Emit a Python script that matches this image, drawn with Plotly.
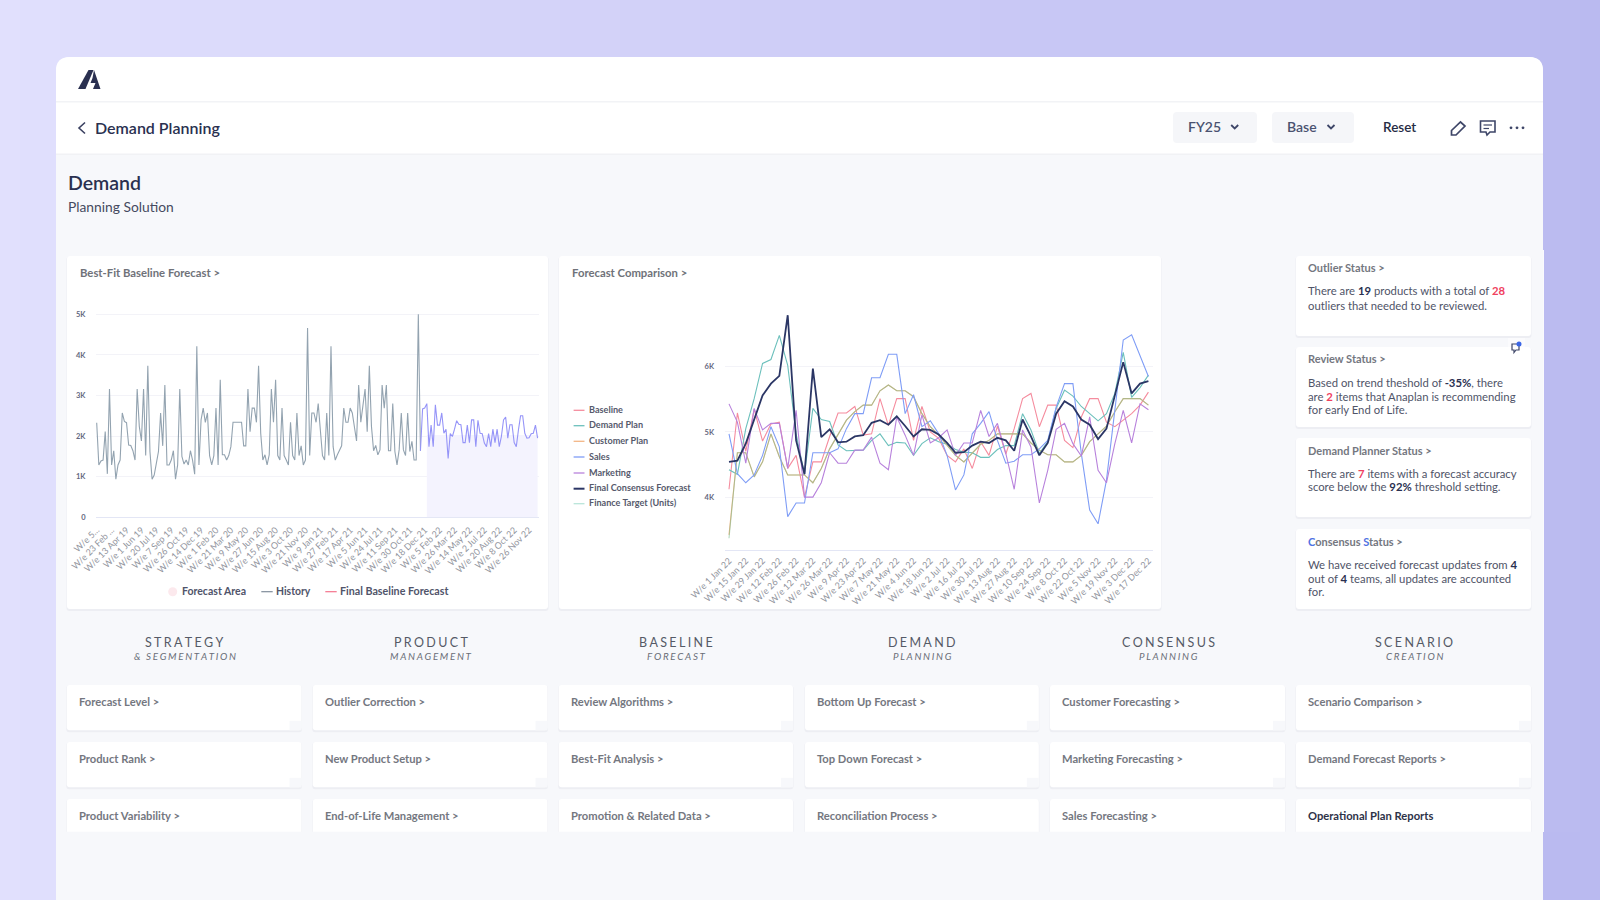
import plotly.graph_objects as go

# ---------- data ----------
history_k = [2.33,1.29,1.39,1.41,2.11,1.07,3.16,1.29,1.64,0.94,1.29,1.41,2.57,2.36,2.33,1.78,1.77,1.64,1.41,3.16,
 2.24,1.88,3.16,1.52,3.73,1.62,0.94,1.04,1.33,1.62,2.57,1.76,3.26,1.29,1.29,1.41,1.64,0.94,1.29,3.16,
 1.50,1.31,1.41,1.29,1.64,1.41,1.06,4.21,1.29,2.40,2.69,2.34,2.57,1.52,1.29,1.52,2.69,1.29,3.39,1.54,
 1.54,1.41,1.52,1.74,2.34,2.34,2.34,2.34,2.34,1.76,1.76,3.16,2.11,2.69,2.69,2.34,3.73,2.07,1.41,1.54,
 1.29,1.54,3.16,2.34,3.39,1.52,1.41,2.69,1.52,1.41,1.29,2.34,1.52,1.41,2.57,1.52,1.76,1.29,1.41,4.66,
 1.52,2.57,2.57,2.34,2.80,2.15,1.52,1.41,2.57,1.52,4.21,1.74,1.41,1.54,1.66,1.76,2.69,2.34,2.34,2.69,
 2.57,2.20,1.88,3.26,2.34,2.75,3.16,2.11,3.73,2.24,1.64,1.77,1.54,1.66,3.26,2.69,3.26,1.64,1.64,2.80,
 1.62,1.29,1.66,2.57,1.66,1.52,2.57,1.62,1.87,1.41,1.41,5.00,1.64]
baseline_forecast_k = [1.64,2.67,2.69,2.80,1.74,2.27,1.74,2.77,2.27,2.27,2.57,2.07,2.17,1.45,2.06,1.99,2.17,2.38,2.29,2.28,
 1.84,1.84,2.27,1.84,2.40,2.40,1.74,2.39,2.07,2.06,1.83,1.74,2.06,1.74,2.17,1.84,2.17,1.74,1.99,2.40,
 2.47,1.95,2.28,2.28,1.84,1.74,2.15,2.50,2.50,2.07,1.95,1.96,2.06,2.07,2.27,1.95]
forecast_start_week = 152
forecast_area_start_week = 155
forecast_area_k = [2.03] * 53
left_ticktext = ["W/e 5...","W/e 23 Feb ...","W/e 13 Apr 19","W/e 1 Jun 19","W/e 20 Jul 19","W/e 7 Sep 19","W/e 26 Oct 19",
 "W/e 14 Dec 19","W/e 1 Feb 20","W/e 21 Mar 20","W/e 9 May 20","W/e 27 Jun 20","W/e 15 Aug 20","W/e 3 Oct 20","W/e 21 Nov 20",
 "W/e 9 Jan 21","W/e 27 Feb 21","W/e 17 Apr 21","W/e 5 Jun 21","W/e 24 Jul 21","W/e 11 Sep 21","W/e 30 Oct 21","W/e 18 Dec 21",
 "W/e 5 Feb 22","W/e 26 Mar 22","W/e 14 May 22","W/e 2 Jul 22","W/e 20 Aug 22","W/e 8 Oct 22","W/e 26 Nov 22"]
right_ticktext = ["W/e 1 Jan 22","W/e 15 Jan 22","W/e 29 Jan 22","W/e 12 Feb 22","W/e 26 Feb 22","W/e 12 Mar 22","W/e 26 Mar 22",
 "W/e 9 Apr 22","W/e 23 Apr 22","W/e 7 May 22","W/e 21 May 22","W/e 4 Jun 22","W/e 18 Jun 22","W/e 2 Jul 22","W/e 16 Jul 22",
 "W/e 30 Jul 22","W/e 13 Aug 22","W/e 27 Aug 22","W/e 10 Sep 22","W/e 24 Sep 22","W/e 8 Oct 22","W/e 22 Oct 22","W/e 5 Nov 22",
 "W/e 19 Nov 22","W/e 3 Dec 22","W/e 17 Dec 22"]
baseline = [4.12,5.29,4.70,5.35,4.86,5.12,5.15,4.44,4.64,4.00,4.54,4.54,4.93,5.29,5.29,5.39,4.95,4.97,5.51,5.10,5.51,5.51,4.87,5.39,5.00,
 4.90,4.64,4.54,4.74,4.44,4.85,4.64,5.09,4.66,5.05,5.51,5.59,5.08,5.41,5.41,4.87,4.76,5.23,5.51,5.51,5.15,5.08,5.18,5.28,5.41,5.61]
demand_plan = [4.42,4.35,5.05,5.51,6.05,6.11,6.48,6.02,4.97,4.35,5.36,5.19,5.16,4.80,4.71,4.72,4.72,4.87,4.97,4.79,4.84,4.83,4.64,4.82,4.91,
 4.85,4.81,4.73,4.69,4.68,4.61,4.61,4.73,4.79,4.79,5.28,5.03,4.67,4.85,5.36,5.64,5.55,5.39,5.28,5.17,5.28,5.59,6.22,5.53,5.68,5.87]
customer_plan = [3.42,4.68,4.68,4.31,4.54,4.97,4.62,4.34,4.34,4.34,4.22,4.44,4.74,4.95,5.18,5.31,5.41,5.41,5.63,5.72,5.63,5.63,5.54,5.28,5.08,
 4.95,4.80,4.64,4.54,4.67,4.81,4.87,4.97,4.97,4.97,4.97,4.83,4.72,4.65,4.65,4.54,4.54,4.64,4.85,4.97,5.09,5.31,5.51,5.51,5.51,5.41]
sales = [4.97,4.36,4.22,4.34,4.64,5.08,4.77,3.70,3.91,3.91,4.68,4.68,4.68,4.74,5.05,5.28,5.28,5.83,5.83,6.19,6.19,5.28,5.57,5.08,5.17,
 4.97,4.64,4.11,4.34,4.97,5.13,5.31,4.87,4.52,4.55,4.65,4.65,4.74,4.87,5.38,5.74,5.74,4.67,3.80,3.59,4.26,5.33,6.41,6.49,6.17,5.85]
marketing = [5.43,5.15,4.52,5.36,5.03,5.13,5.13,4.44,5.33,4.00,4.00,4.22,4.68,4.52,4.52,4.72,4.72,4.92,4.52,4.42,5.23,4.95,4.64,5.26,4.83,
 4.91,5.03,4.64,4.83,4.83,5.33,4.93,5.13,4.67,4.12,5.03,4.77,3.91,4.41,5.04,5.13,4.82,4.63,5.23,4.41,4.22,4.82,5.33,4.83,5.43,5.34]
final_consensus = [4.54,4.56,4.82,5.18,5.56,5.74,5.86,6.79,4.87,4.35,5.97,4.92,5.04,4.84,4.85,4.93,4.95,5.14,5.18,5.11,5.24,5.09,4.93,5.04,5.03,
 4.96,4.83,4.68,4.69,4.79,4.85,4.83,4.91,4.87,4.71,5.19,4.93,4.64,4.83,5.28,5.47,5.39,5.19,5.11,4.89,5.05,5.56,6.07,5.59,5.74,5.78]
finance_target = [3.37,4.68,4.68,4.31,4.54,4.97,4.62,4.34,4.34,4.34,4.22,4.44,4.74,4.95,5.18,5.31,5.41,5.41,5.63,5.72,5.63,5.63,5.54,5.28,5.08,
 4.95,4.80,4.64,4.54,4.67,4.81,4.87,4.97,4.97,4.97,4.97,4.83,4.72,4.65,4.65,4.54,4.54,4.64,4.85,4.97,5.09,5.31,5.51,5.51,5.51,5.41]

status_cards = [
 (256,336,268.3,"Outlier Status &gt;",[(291.3,"There are <b><span style='color:#2A3050'>19</span></b> products with a total of <b><span style='color:#F0415F'>28</span></b>"),(306,"outliers that needed to be reviewed.")]),
 (347,427,359.3,"Review Status &gt;",[(383.3,"Based on trend theshold of <b><span style='color:#2A3050'>-35%</span></b>, there"),(397,"are <b><span style='color:#F0415F'>2</span></b> items that Anaplan is recommending"),(410.3,"for early End of Life.")]),
 (438,517,451,"Demand Planner Status &gt;",[(474.3,"There are <b><span style='color:#F0415F'>7</span></b> items with a forecast accuracy"),(487.7,"score below the <b><span style='color:#2A3050'>92%</span></b> threshold setting.")]),
 (529,609,542.3,"<span style='color:#4F72E3'>C</span>onsensus <span style='color:#4F72E3'>S</span>tatus &gt;",[(565.3,"We have received forecast updates from <b><span style='color:#2A3050'>4</span></b>"),(579,"out of <b><span style='color:#2A3050'>4</span></b> teams, all updates are accounted"),(592.3,"for.")]),
]
columns = [
 ("STRATEGY","& SEGMENTATION",["Forecast Level >","Product Rank >","Product Variability >"]),
 ("PRODUCT","MANAGEMENT",["Outlier Correction >","New Product Setup >","End-of-Life Management >"]),
 ("BASELINE","FORECAST",["Review Algorithms >","Best-Fit Analysis >","Promotion & Related Data >"]),
 ("DEMAND","PLANNING",["Bottom Up Forecast >","Top Down Forecast >","Reconciliation Process >"]),
 ("CONSENSUS","PLANNING",["Customer Forecasting >","Marketing Forecasting >","Sales Forecasting >"]),
 ("SCENARIO","CREATION",["Scenario Comparison >","Demand Forecast Reports >","Operational Plan Reports"]),
]

# ---------- layout helpers (pixel -> paper) ----------
W, H = 1600, 900
FONT = "Lato"
px = lambda x: x / W
py = lambda y: 1 - y / H
shapes, annots = [], []

def rect(x0, y0, x1, y1, fill, line=None, lw=0):
    shapes.append(dict(type="rect", xref="paper", yref="paper", x0=px(x0), x1=px(x1), y0=py(y0), y1=py(y1),
                       fillcolor=fill, line=dict(color=line or fill, width=lw), layer="below"))

def path(pts, fill=None, line=None, lw=1.5, close=False, layer="above"):
    d = "M" + " L".join(f"{px(a):.6f},{py(b):.6f}" for a, b in pts) + (" Z" if close else "")
    shapes.append(dict(type="path", path=d, xref="paper", yref="paper", fillcolor=fill or "rgba(0,0,0,0)",
                       line=dict(color=line or "rgba(0,0,0,0)", width=lw if line else 0), layer=layer))

def rrect(x0, y0, x1, y1, r, fill, top_only=False, layer="below"):
    c = lambda a, b: f"{px(a):.6f},{py(b):.6f}"
    rb = 0 if top_only else r
    d = (f"M{c(x0+r,y0)} L{c(x1-r,y0)} Q{c(x1,y0)} {c(x1,y0+r)} L{c(x1,y1-rb)} Q{c(x1,y1)} {c(x1-rb,y1)} "
         f"L{c(x0+rb,y1)} Q{c(x0,y1)} {c(x0,y1-rb)} L{c(x0,y0+r)} Q{c(x0,y0)} {c(x0+r,y0)} Z")
    shapes.append(dict(type="path", path=d, xref="paper", yref="paper", fillcolor=fill, line=dict(width=0), layer=layer))

def card(x0, y0, x1, y1):
    rrect(x0-.5, y0+.5, x1+.5, y1+2, 3, "#EDEEF3")
    rrect(x0, y0, x1, y1, 3, "#FFFFFF")

def T(x, y, text, size=11, color="#6F7280", weight=400, anchor="left", italic=False, family=FONT):
    dx = -1 if anchor == "left" else 0
    annots.append(dict(xref="paper", yref="paper", x=px(x+dx), y=py(y-0.8), text=text, showarrow=False, xanchor=anchor,
                       yanchor="middle", borderpad=0,
                       font=dict(family=family, size=size, color=color, weight=weight, style="italic" if italic else "normal")))

def lerp(a, b, t):
    return tuple(round(a[i] + (b[i]-a[i])*t) for i in range(3))

def spaced(s, gap="\u2009\u200a"):
    return gap.join(s)

# ---------- page chrome ----------
STEP = 20
for i in range(0, W, STEP):
    t = (i + STEP/2) / W
    col = lerp((225,224,253),(206,205,247),t*2) if t < .5 else lerp((206,205,247),(186,186,240),(t-.5)*2)
    rect(i, 0, i+STEP+1, H, "rgb(%d,%d,%d)" % col)
rrect(56, 57, 1543, 905, 14, "#F7F8FB", top_only=True)
rrect(56, 57, 1543, 154, 14, "#FFFFFF", top_only=True)
rect(56, 101, 1543, 102.5, "#F2F3F6")
rect(56, 153.5, 1543, 155, "#F1F2F5")
rect(1543, 250, 1544, 832, "#FAFAFE")

# logo
path([(78,89),(85.5,89),(93.5,70),(88.5,70)], fill="#2A3050")
path([(94,70),(100.5,89),(93,89),(95.5,83),(90.5,83),(92.5,78)], fill="#2A3050")
# back chevron
path([(85,122.5),(79,128),(85,133.5)], line="#3A4060", lw=1.6)
T(95, 128, "Demand Planning", 16, "#2A3050", 600)
T(67.5, 183, "Demand", 19.5, "#2A3050", 600)
T(67.5, 207, "Planning Solution", 13.8, "#454A60")

# toolbar
rrect(1173, 112, 1257, 143, 4, "#F5F6F9")
rrect(1272, 112, 1354, 143, 4, "#F5F6F9")
T(1188, 127.5, "FY25", 14, "#4A5270", 600)
T(1287, 127.5, "Base", 14, "#4A5270", 600)
for cx in (1234.7, 1331):
    path([(cx-3.5,125),(cx,128.5),(cx+3.5,125)], line="#3E4668", lw=1.8)
T(1383, 127.5, "Reset", 13.5, "#262C44", 600)
path([(1451.5,135),(1451.5,130.5),(1460.5,122),(1465,126),(1456,135)], line="#3E4668", lw=1.7, close=True)
path([(1480.5,121),(1495,121),(1495,132),(1490,132),(1487,135),(1486,132),(1480.5,132)], line="#3E4668", lw=1.6, close=True)
path([(1483.5,125),(1492,125)], line="#3E4668", lw=1.2)
path([(1483.5,128.5),(1489,128.5)], line="#3E4668", lw=1.2)
for dx in (1511, 1517, 1523):
    shapes.append(dict(type="circle", xref="paper", yref="paper", x0=px(dx-1.4), x1=px(dx+1.4), y0=py(126.4), y1=py(129.2),
                       fillcolor="#3E4668", line=dict(width=0)))

# chart panels
card(67, 256, 548, 609)
card(559, 256, 1161, 609)
T(79.5, 273.3, "Best-Fit Baseline Forecast &gt;", 11.3, "#6F7279", 700)
T(571.5, 273.3, "Forecast Comparison &gt;", 11.3, "#6F7279", 700)

# status cards
for y0, y1, ty, title, lines in status_cards:
    card(1296, y0, 1531, y1)
    T(1307.7, ty, title, 11, "#74777F", 700)
    for ly, txt in lines:
        T(1307.7, ly, txt, 11.3, "#4F5468")
rect(1508, 338, 1525, 347, "#FBFBFD")
path([(1512,347),(1512,344),(1519,344),(1519,350),(1516,350),(1514,352.5),(1514,350),(1512,350)], line="#3E4668", lw=1.2, close=True)
shapes.append(dict(type="circle", xref="paper", yref="paper", x0=px(1516.5), x1=px(1521.5), y0=py(341.5), y1=py(346.5),
                   fillcolor="#3B66E6", line=dict(width=0)))

# column blocks
col_x = [(66.8,301.5),(312.8,547.5),(558.7,793),(805,1038.8),(1050,1285),(1296,1531)]
rows = [(685,730.3,702.3),(742,787.3,759.3),(799,860,816.3)]
for (x0, x1), (head, sub, items) in zip(col_x, columns):
    cx = (x0 + x1) / 2 + .5
    T(cx, 643, spaced(head), 12.5, "#555A66", anchor="center")
    T(cx, 656.5, spaced(sub), 9.8, "#6A6E78", anchor="center", italic=True)
    for ri, ((y0, y1, ty), lab) in enumerate(zip(rows, items)):
        card(x0, y0, x1, y1)
        if ri < 2:
            rect(x1-12, y1-9.5, x1, y1, "#F7F8FB")
        dark = lab == "Operational Plan Reports"
        T(x0+12.3, ty, lab, 11.2, "#2D3248" if dark else "#74777F", 700)
rect(56, 831.7, 1543, 905, "#F7F8FB")
rect(1543, 832, 1600, 905, "rgb(186,186,240)")

# legends
shapes.append(dict(type="circle", xref="paper", yref="paper", x0=px(168.2), x1=px(177.2), y0=py(587.2), y1=py(596.2),
                   fillcolor="#FCE9ED", line=dict(width=0)))
T(182, 591.7, "Forecast Area", 10.5, "#50546A", 700)
path([(261.3,591.7),(272.7,591.7)], line="#7F8C9A", lw=1.2)
T(276, 591.7, "History", 10.4, "#50546A", 700)
path([(325.3,591.7),(336.7,591.7)], line="#F4738C", lw=1.2)
T(340, 591.7, "Final Baseline Forecast", 10.7, "#50546A", 700)

SERIES_STYLE = [("Baseline","#F58C9E",1.1),("Demand Plan","#6CC0BC",1.1),("Customer Plan","#F3B685",1.1),("Sales","#7F9DF6",1.1),
                ("Marketing","#B882DC",1.1),("Final Consensus Forecast","#2B3665",1.8),("Finance Target (Units)","#B9E5DA",1.1)]
for (name, color, lw), ly in zip(SERIES_STYLE, [410.3,425.7,441.3,457,473,488.7,503.7]):
    path([(573.6,ly),(584.5,ly)], line=color, lw=lw+.2)
    T(588.8, ly, name, 9.1, "#565A6C", 700)

# ---------- charts ----------
fig = go.Figure()
weeks_hist = list(range(len(history_k)))
weeks_fc = [forecast_start_week + i for i in range(len(baseline_forecast_k))]
weeks_area = [forecast_area_start_week + i for i in range(len(forecast_area_k))]
fig.add_trace(go.Scatter(x=weeks_area, y=forecast_area_k, name="Forecast Area", mode="none", fill="tozeroy",
                         fillcolor="#F4F3FE", xaxis="x", yaxis="y"))
fig.add_trace(go.Scatter(x=weeks_hist, y=history_k, name="History", mode="lines", line=dict(color="#93A3B0", width=1.1),
                         xaxis="x", yaxis="y"))
fig.add_trace(go.Scatter(x=weeks_fc, y=baseline_forecast_k, name="Final Baseline Forecast", mode="lines",
                         line=dict(color="#9594F8", width=1.1), xaxis="x", yaxis="y"))

x2 = list(range(len(baseline)))
series = dict(zip([s[0] for s in SERIES_STYLE], [baseline, demand_plan, customer_plan, sales, marketing, final_consensus, finance_target]))
order = ["Baseline","Demand Plan","Customer Plan","Finance Target (Units)","Sales","Marketing","Final Consensus Forecast"]
style = {s[0]: s for s in SERIES_STYLE}
for nm in order:
    _, color, lw = style[nm]
    if nm == "Finance Target (Units)":
        color = "rgba(120,185,140,0.55)"
    fig.add_trace(go.Scatter(x=x2, y=series[nm], name=nm, mode="lines", line=dict(color=color, width=lw), xaxis="x2", yaxis="y2"))

tickfont = dict(family=FONT, size=9, color="#92959E")
ytickfont = dict(family=FONT, size=7.5, color="#646880", weight=700)
k_left = [0,1,2,3,4,5]
k_right = [4,5,6]
fig.update_layout(
    width=W, height=H, margin=dict(l=0, r=0, t=0, b=0, autoexpand=False), paper_bgcolor="#F7F8FB", plot_bgcolor="rgba(0,0,0,0)",
    showlegend=False, shapes=shapes, annotations=annots, font=dict(family=FONT),
    xaxis=dict(automargin=False, domain=[px(96), px(539)], range=[-0.33, 207.66], tickmode="array", tickvals=list(range(0, 208, 7)),
               ticktext=left_ticktext, tickangle=-45, tickfont=tickfont, showgrid=False, zeroline=False,
               showline=False, ticks="outside", ticklen=3, tickcolor="rgba(0,0,0,0)", anchor="y"),
    yaxis=dict(automargin=False, domain=[py(517.3), py(310)], range=[0, 207.3/40.6], tickmode="array", tickvals=k_left,
               ticktext=["0"]+[f"{k}K" for k in k_left[1:]], tickfont=ytickfont, gridcolor="#F3F3F8", gridwidth=1.3,
               zeroline=True, zerolinecolor="#E3E6F5", zerolinewidth=1.3, ticks="outside", ticklen=8,
               tickcolor="rgba(0,0,0,0)", anchor="x"),
    xaxis2=dict(automargin=False, domain=[px(724.6), px(1152.6)], range=[-0.525, 50.5], tickmode="array", tickvals=list(range(0, 51, 2)),
                ticktext=right_ticktext, tickangle=-45, tickfont=tickfont, showgrid=False, zeroline=False,
                showline=True, linecolor="#E3E6F5", linewidth=1.3, ticks="outside", ticklen=1, tickcolor="rgba(0,0,0,0)", anchor="y2"),
    yaxis2=dict(automargin=False, domain=[py(550), py(310)], range=[6-183.3/65.2, 6+56.7/65.2], tickmode="array", tickvals=k_right,
                ticktext=[f"{k}K" for k in k_right], tickfont=ytickfont, gridcolor="#F3F3F8", gridwidth=1.3, zeroline=False,
                ticks="outside", ticklen=8, tickcolor="rgba(0,0,0,0)", anchor="x2"),
)
fig.write_html("out.html", config=dict(displayModeBar=False),
               post_script="document.body.style.margin='0';document.body.style.overflow='hidden';")
